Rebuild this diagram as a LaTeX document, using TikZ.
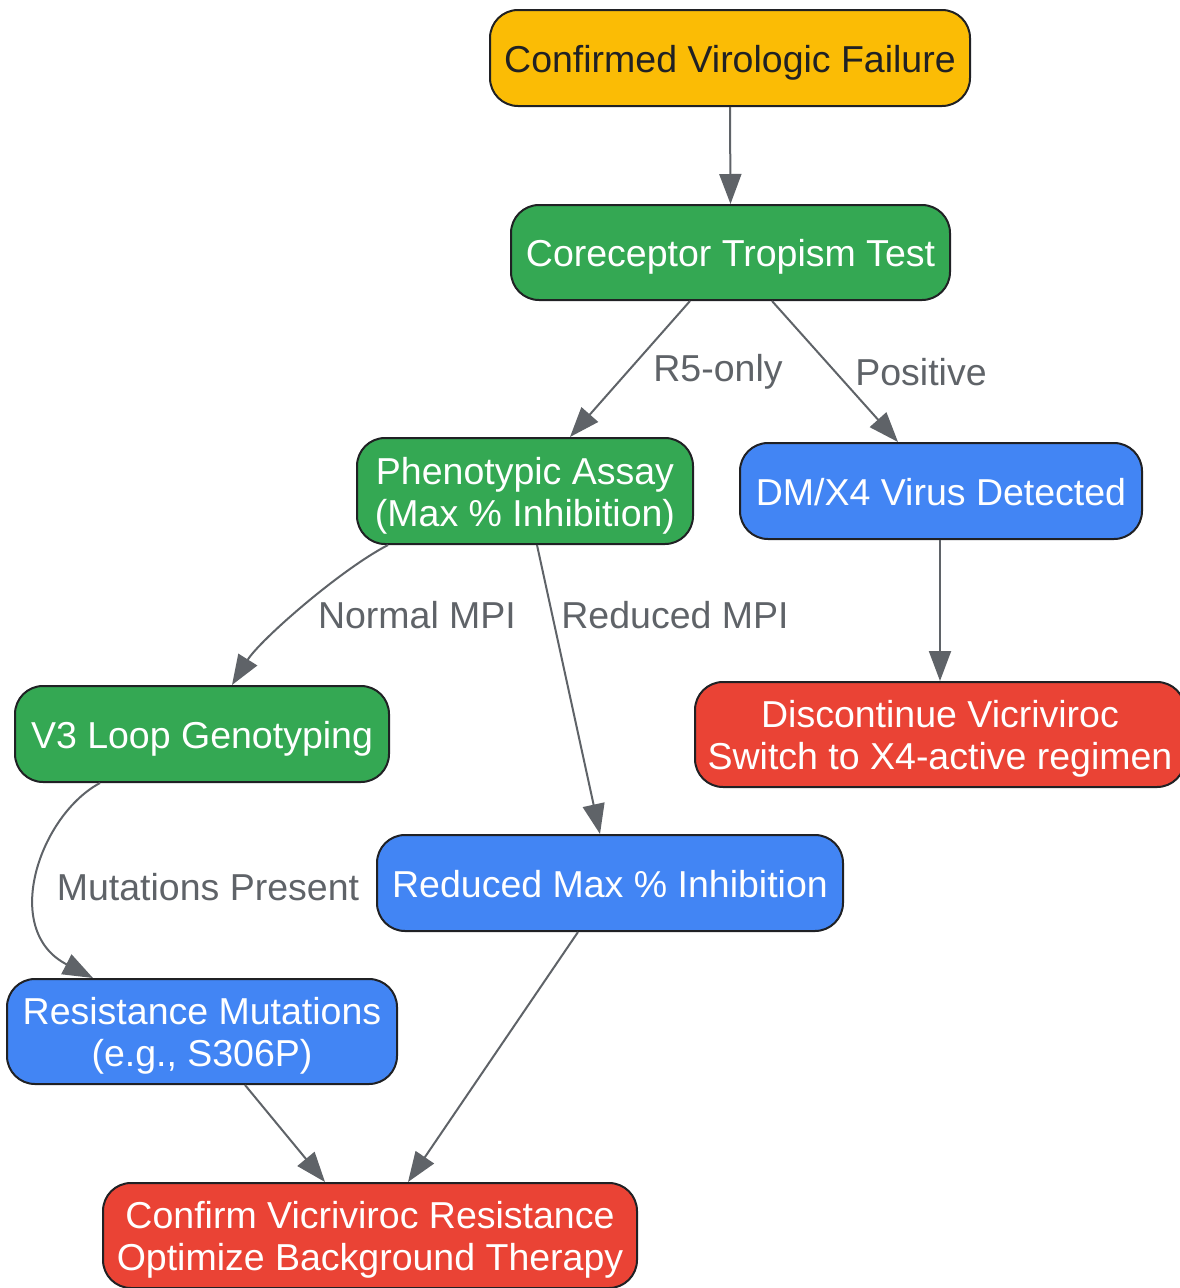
\documentclass[tikz,border=0pt]{standalone}
\usepackage{fontspec}
\setmainfont{Liberation Sans}
\usetikzlibrary{arrows.meta}
\definecolor{gyellow}{HTML}{FBBC05}
\definecolor{ggreen}{HTML}{34A853}
\definecolor{gblue}{HTML}{4285F4}
\definecolor{gred}{HTML}{EA4335}
\definecolor{ggray}{HTML}{5F6368}
\definecolor{gdark}{HTML}{202124}
\newcommand{\tstrut}{\rule{0pt}{37pt}}
\newcommand{\bstrut}{\rule[-9pt]{0pt}{9pt}}
\tikzset{
  box/.style={draw=gdark, line width=2pt, rounded corners=28pt, align=center,
    inner sep=0pt, font=\fontsize{37.5}{42}\selectfont},
  yel/.style={box, fill=gyellow, text=gdark},
  grn/.style={box, fill=ggreen, text=white},
  blu/.style={box, fill=gblue, text=white},
  rd/.style={box, fill=gred, text=white},
  edge/.style={draw=ggray, line width=2pt, -{Triangle[length=30pt,width=22pt]}},
  lbl/.style={text=ggray, font=\fontsize{37.5}{42}\selectfont, inner sep=0pt}
}
\begin{document}
\begin{tikzpicture}[x=1pt,y=-1pt]
\useasboundingbox (0,0) rectangle (1180,1288);
\node[yel, minimum width=480pt, minimum height=96pt] (n1) at (730,58) {\tstrut Confirmed Virologic Failure\bstrut};
\node[grn, minimum width=439pt, minimum height=95pt] (n2) at (730.5,252.5) {\tstrut Coreceptor Tropism Test\bstrut};
\node[grn, minimum width=336pt, minimum height=106pt] (n3) at (525,491) {\tstrut Phenotypic Assay\\(Max \% Inhibition)\bstrut};
\node[blu, minimum width=402pt, minimum height=96pt] (n4) at (941,491) {\tstrut DM/X4 Virus Detected\bstrut};
\node[rd, minimum width=490pt, minimum height=105pt] (n5) at (940,734.5) {\tstrut Discontinue Vicriviroc\\Switch to X4-active regimen\bstrut};
\node[grn, minimum width=374pt, minimum height=96pt] (n6) at (202,734) {\tstrut V3 Loop Genotyping\bstrut};
\node[blu, minimum width=466pt, minimum height=96pt] (n7) at (610,883) {\tstrut Reduced Max \% Inhibition\bstrut};
\node[blu, minimum width=390pt, minimum height=105pt] (n8) at (202,1031.5) {\tstrut Resistance Mutations\\(e.g., S306P)\bstrut};
\node[rd, minimum width=534pt, minimum height=105pt] (n9) at (370,1235.5) {\tstrut Confirm Vicriviroc Resistance\\Optimize Background Therapy\bstrut};

\node[lbl] (l1) at (718,372) {R5-only};
\node[lbl] (l2) at (921,372) {Positive};
\node[lbl] (l3) at (417,615) {Normal MPI};
\node[lbl] (l4) at (675,615) {Reduced MPI};
\node[lbl] (l5) at (208,887) {Mutations Present};

\draw[edge] (n1.south) -- (n2.north);
\draw[edge] ([xshift=-40.5pt]n2.south) -- ([xshift=45pt]n3.north);
\draw[edge] ([xshift=41.5pt]n2.south) -- ([xshift=-43pt]n4.north);
\draw[edge] ([xshift=-137pt]n3.south) .. controls (340,570) and (260,640) .. ([xshift=30pt]n6.north);
\draw[edge] ([xshift=12pt]n3.south) -- ([xshift=-10pt]n7.north);
\draw[edge] ([xshift=-1pt]n4.south) -- (n5.north);
\draw[edge] ([xshift=-102pt]n6.south) .. controls (40,815) and (0,930) .. ([xshift=-109pt]n8.north);
\draw[edge] ([xshift=43pt]n8.south) -- ([xshift=-45pt]n9.north);
\draw[edge] ([xshift=-32pt]n7.south) -- ([xshift=38pt]n9.north);
\end{tikzpicture}
\end{document}
